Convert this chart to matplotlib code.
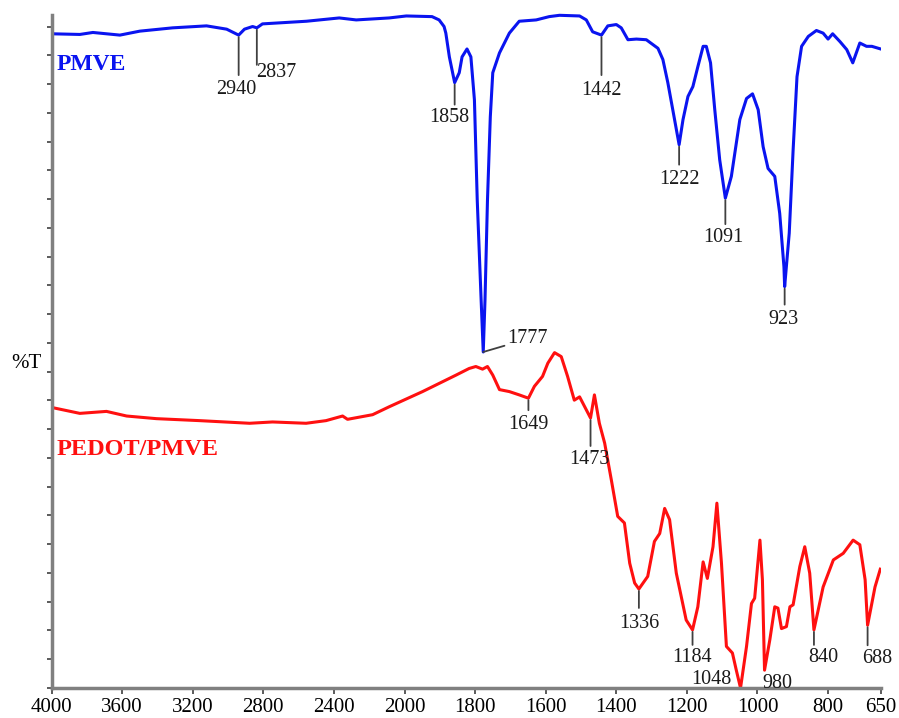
import numpy as np
import matplotlib.pyplot as plt

# FTIR spectra (wavenumber in cm-1, %T in arbitrary 0-100 units)
pmve_wn = [4000, 3840, 3766, 3613, 3500, 3314, 3122, 3008, 2940, 2907, 2861, 2837, 2805,
           2556, 2370, 2274, 2087, 1995, 1922, 1902, 1888, 1883, 1873, 1858, 1845, 1837,
           1823, 1812, 1802, 1794, 1783, 1777, 1772, 1765, 1757, 1750, 1731, 1703, 1675,
           1627, 1590, 1561, 1504, 1485, 1467, 1442, 1424, 1400, 1386, 1367, 1343, 1315,
           1282, 1268, 1254, 1240, 1222, 1211, 1197, 1183, 1169, 1154, 1145, 1133, 1121,
           1107, 1091, 1074, 1050, 1031, 1014, 998, 984, 970, 951, 937, 925, 923, 910,
           899, 888, 875, 856, 833, 814, 800, 787, 766, 747, 730, 710, 691, 676, 651]
pmve_t = [99.1, 99.0, 99.3, 98.9, 99.5, 100.0, 100.3, 99.8, 98.9, 99.8, 100.2, 100.0, 100.6,
          101.0, 101.5, 101.2, 101.5, 101.8, 101.7, 101.2, 100.2, 99.2, 95.6, 91.7, 93.2, 95.6,
          96.8, 95.6, 89.1, 73.9, 58.8, 50.9, 58.8, 73.9, 86.5, 93.2, 96.2, 99.2, 101.0,
          101.2, 101.7, 101.9, 101.8, 101.2, 99.4, 98.9, 100.3, 100.5, 100.0, 98.2, 98.3, 98.2,
          96.9, 95.2, 91.7, 87.6, 82.3, 86.1, 89.6, 91.1, 94.1, 97.2, 97.2, 94.7, 87.6,
          80.0, 74.2, 77.5, 86.1, 89.3, 90.0, 87.6, 82.0, 78.7, 77.5, 71.9, 63.8, 60.8, 68.9,
          81.5, 92.6, 97.2, 98.7, 99.6, 99.2, 98.3, 99.1, 97.9, 96.7, 94.7, 97.7, 97.2, 97.2, 96.8]

pedot_wn = [4000, 3840, 3689, 3575, 3406, 3161, 2878, 2748, 2558, 2445, 2351, 2323, 2181,
            2087, 1949, 1854, 1817, 1798, 1779, 1765, 1750, 1731, 1703, 1675, 1649, 1632,
            1609, 1594, 1575, 1556, 1538, 1519, 1504, 1473, 1462, 1448, 1433, 1414, 1396,
            1377, 1362, 1348, 1336, 1311, 1292, 1277, 1263, 1249, 1230, 1202, 1184, 1169,
            1154, 1142, 1126, 1115, 1102, 1088, 1071, 1060, 1048, 1031, 1017, 1008, 993,
            986, 980, 965, 951, 942, 932, 918, 908, 899, 880, 866, 852, 840, 814, 785,
            757, 729, 710, 695, 688, 667, 652]
pedot_t = [42.5, 41.6, 41.9, 41.2, 40.8, 40.5, 40.1, 40.3, 40.1, 40.5, 41.2, 40.7, 41.4,
           42.6, 44.9, 47.4, 48.4, 48.7, 48.3, 48.7, 47.4, 45.2, 44.9, 44.4, 43.9, 45.7,
           47.2, 49.2, 50.8, 50.2, 47.2, 43.6, 44.1, 40.9, 44.4, 40.1, 37.1, 31.5, 26.0,
           25.0, 18.9, 15.9, 15.0, 16.9, 22.2, 23.4, 27.2, 25.5, 17.4, 10.3, 8.8, 12.3,
           19.1, 16.6, 21.4, 28.0, 18.9, 6.3, 5.3, 2.7, 0.0, 6.3, 12.8, 13.6, 22.4,
           16.4, 2.7, 7.3, 12.3, 12.1, 9.0, 9.3, 12.3, 12.6, 18.4, 21.4, 17.4, 8.8, 15.3, 19.4,
           20.4, 22.4, 21.7, 16.4, 9.5, 15.3, 18.0]

xticks = [4000, 3600, 3200, 2800, 2400, 2000, 1800, 1600, 1400, 1200, 1000, 800, 650]


# spectrometer style axis: scale doubles below 2000 cm-1
def fwd(w):
    w = np.asarray(w, dtype=float)
    return np.where(w > 2000, 2000 + (w - 2000) / 2, w)


def inv(v):
    v = np.asarray(v, dtype=float)
    return np.where(v > 2000, 2000 + (v - 2000) * 2, v)


serif = 'Liberation Serif'
grey = '#808080'
dark = '#404040'
blue = '#0a14f0'
red = '#ff1010'

fig = plt.figure(figsize=(8.99, 7.18), dpi=100)
ax = fig.add_axes([51.6 / 899, 30 / 718, (881 - 51.6) / 899, (688 - 12) / 718])
ax.set_xscale('function', functions=(fwd, inv))

ax.plot(pmve_wn, pmve_t, color=blue, lw=2.2, solid_joinstyle='round')
ax.plot(pedot_wn, pedot_t, color=red, lw=2.2, solid_joinstyle='round')

ax.set_xlim(4000, 650)
ax.set_ylim(0, 102.4)
ax.set_xticks(xticks)
ax.set_xticklabels([str(v) for v in xticks], fontsize=15, family=serif)
ax.set_yticks(np.linspace(0, 100.2, 24))
ax.set_yticklabels([])
ax.tick_params(axis='x', length=4, width=1.2, color=dark, pad=3)
ax.tick_params(axis='y', length=3.5, width=1.2, color=dark)
for s in ['top', 'right']:
    ax.spines[s].set_visible(False)
for s in ['left', 'bottom']:
    ax.spines[s].set_color(grey)
    ax.spines[s].set_linewidth(2.5)
ax.spines['left'].set_bounds(0, 102.0)

ytr = ax.get_yaxis_transform()
ax.text(-0.0116, 49.2, '%T', transform=ytr, ha='right', va='center',
        fontsize=15, family=serif)
ax.text(0.006, 94.5, 'PMVE', transform=ytr, color=blue, fontsize=17,
        fontweight='bold', family=serif, va='center')
ax.text(0.006, 36.2, 'PEDOT/PMVE', transform=ytr, color=red, fontsize=17.5,
        fontweight='bold', family=serif, va='center')


def peak_t(w, wn, t):
    return np.interp(w, wn[::-1], t[::-1])


# (wavenumber, line length px, text dx px, text dy px, ha)
pmve_marks = [(2940, 38, -2, -45, 'center'), (2837, 35, -1, -35, 'left'),
              (1858, 20, -5, -25.5, 'center'), (1442, 38, 0, -45.5, 'center'),
              (1222, 18, 0, -25.5, 'center'), (1091, 24, -2, -30, 'center'),
              (923, 16, -1, -23.5, 'center')]
pedot_marks = [(1649, 10, 0, -17, 'center'), (1473, 26, -1, -32, 'center'),
               (1336, 17, 0, -25, 'center'), (1184, 13, -1, -18.5, 'center'),
               (1048, 0, -9, 17.5, 'right'), (980, 0, -2, -3.5, 'left'),
               (840, 13, 9, -18.5, 'center'), (688, 18, 10, -23.5, 'center')]

for marks, wn, t in [(pmve_marks, pmve_wn, pmve_t), (pedot_marks, pedot_wn, pedot_t)]:
    for w, length, dx, dy, ha in marks:
        y = peak_t(w, wn, t)
        if length:
            ax.annotate('', xy=(w, y), xytext=(0, -2 - length), textcoords='offset pixels',
                        arrowprops=dict(arrowstyle='-', color=dark, lw=1.3,
                                        shrinkA=0, shrinkB=1.4))
        ax.annotate(str(w), xy=(w, y), xytext=(dx, dy), textcoords='offset pixels',
                    ha=ha, va='top', fontsize=14.5, family=serif, color='#1a1a1a')

# 1777 gets a slanted leader
y1777 = peak_t(1777, pmve_wn, pmve_t)
ax.annotate('1777', xy=(1777, y1777), xytext=(24, 13), textcoords='offset pixels',
            ha='left', va='center', fontsize=14.5, family=serif, color='#1a1a1a',
            arrowprops=dict(arrowstyle='-', color=dark, lw=1.3, shrinkA=0, shrinkB=0))

fig.savefig('out.png', dpi=100)
